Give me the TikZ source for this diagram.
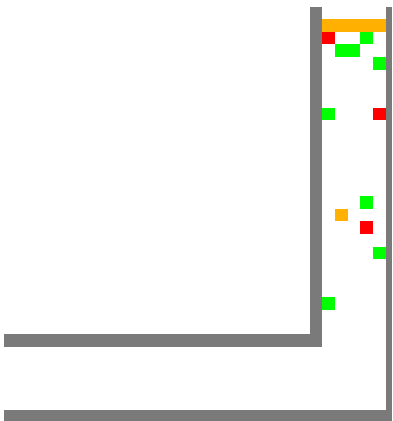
\documentclass[tikz,border=0pt]{standalone}
\usepackage{tikz}
\usepackage{xcolor}
\definecolor{wallgray}{HTML}{7A7A7A}
\definecolor{goalorange}{HTML}{FFB000}
\definecolor{cellgreen}{HTML}{00FF00}
\definecolor{cellred}{HTML}{FF0000}

\begin{document}
\begin{tikzpicture}[x=1pt, y=-1pt,
  wall/.style={fill=wallgray},
  cellbox/.style={fill=#1}]
  \useasboundingbox (0,0) rectangle (392,421);
  % walls
  \fill[wall] (310,7) rectangle (322,347);
  \fill[wall] (4,334) rectangle (322,347);
  \fill[wall] (386,7) rectangle (392,421);
  \fill[wall] (4,410) rectangle (392,421);
  % top bar
  \fill[cellbox=goalorange] (322,19) rectangle (386,32);
  % cells (column, row, colour)
  \foreach \c/\r/\col in {0/1/cellred, 3/1/cellgreen, 1/2/cellgreen, 2/2/cellgreen,
      4/3/cellgreen, 0/7/cellgreen, 4/7/cellred, 3/14/cellgreen,
      1/15/goalorange, 3/16/cellred, 4/18/cellgreen, 0/22/cellgreen}
    \fill[cellbox=\col] ({322+12.8*\c},{19+12.65*\r}) rectangle ++(12.8,12.65);
\end{tikzpicture}
\end{document}
